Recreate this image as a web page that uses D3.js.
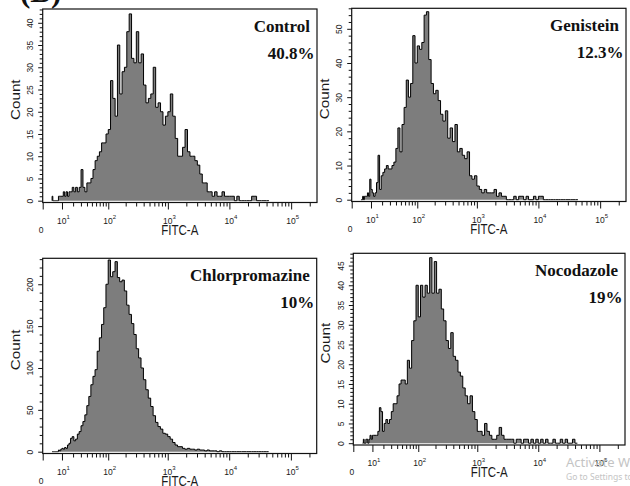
<!DOCTYPE html>
<html>
<head>
<meta charset="utf-8">
<script src="https://cdn.jsdelivr.net/npm/d3@7"></script>
<style>
  body { margin: 0; background: #fff; }
  svg { display: block; }
  text { font-family: "Liberation Sans", Arial, sans-serif; fill: #1a1a1a; }
  .title { font-family: "Liberation Serif", "Times New Roman", serif; font-weight: bold; font-size: 17px; fill: #111; }
</style>
</head>
<body>
<div class="histos"></div>
<script>
// histogram channels: bin i starts at 10^(binLogStart + i*binLogStep) on FITC-A
const binLogStart = 0.6
const binLogStep = 0.04

// counts per bin
const controlCounts = [
  1, 0, 0, 0, 0, 0, 0, 1, 1, 1,
  1, 2, 1, 2, 1, 2, 2, 3, 2, 3,
  2, 3, 7, 3, 2, 4, 4, 5, 7, 9,
  10, 11, 13, 13, 15, 16, 27, 23, 19, 35,
  24, 29, 30, 38, 42, 32, 31, 38, 31, 33,
  26, 22, 23, 24, 30, 21, 22, 20, 17, 19,
  20, 24, 19, 14, 10, 10, 12, 16, 11, 10,
  10, 9, 8, 6, 4, 4, 2, 2, 1, 2,
  1, 1, 2, 1, 1, 1, 1, 0, 1, 0,
  0, 0, 0, 0, 1, 1, 0, 0, 0, 0, 0
]
const genisteinCounts = [
  0, 0, 1, 0, 1, 1, 1, 2, 1, 6,
  3, 2, 1, 2, 5, 13, 3, 7, 8, 9,
  10, 9, 9, 10, 11, 15, 21, 14, 22, 27,
  35, 30, 34, 48, 40, 45, 44, 46, 54, 55,
  41, 34, 31, 32, 29, 25, 23, 26, 18, 21,
  17, 22, 14, 15, 13, 12, 14, 7, 6, 7,
  4, 3, 2, 3, 2, 2, 2, 3, 1, 2,
  1, 1, 0, 0, 0, 1, 0, 1, 1, 0,
  1, 0, 0, 1, 0, 1, 1, 0, 0, 0,
  0, 0, 0, 0, 0, 0, 0, 0, 0, 0, 0
]
const chlorpromazineCounts = [
  0, 0, 0, 0, 0, 0, 0, 2, 1, 3,
  4, 3, 5, 4, 8, 10, 16, 18, 13, 15,
  21, 24, 31, 36, 44, 55, 66, 80, 90, 98,
  120, 136, 152, 172, 200, 229, 209, 215, 227, 208,
  203, 205, 192, 175, 164, 153, 140, 123, 112, 100,
  86, 74, 64, 54, 43, 35, 30, 27, 22, 21,
  18, 15, 11, 8, 6, 6, 4, 3, 4, 3,
  3, 2, 3, 2, 2, 1, 2, 1, 1, 1,
  0, 1, 0, 0, 0, 0, 0, 0, 0, 0,
  0, 0, 0, 0, 0, 0, 0, 0, 0, 0, 0
]
const nocodazoleCounts = [
  0, 1, 0, 0, 1, 1, 0, 1, 2, 1,
  2, 2, 2, 2, 3, 9, 8, 3, 5, 6,
  5, 6, 8, 10, 10, 12, 15, 16, 16, 15,
  21, 19, 26, 31, 40, 32, 40, 37, 40, 38,
  47, 38, 46, 38, 39, 34, 31, 26, 24, 28,
  22, 21, 18, 17, 14, 12, 10, 12, 8, 6,
  3, 3, 2, 5, 3, 2, 1, 1, 2, 4,
  2, 1, 1, 1, 1, 0, 1, 1, 0, 1,
  1, 0, 1, 0, 1, 0, 1, 0, 1, 0,
  0, 1, 0, 0, 1, 0, 1, 0, 0, 1, 0
]

const panelCounts = [controlCounts, genisteinCounts, chlorpromazineCounts, nocodazoleCounts]
const panelNames = ['Control', 'Genistein', 'Chlorpromazine', 'Nocodazole']
const panelPercents = ['40.8%', '12.3%', '10%', '19%']

// count axis: top of the box, labelled step, small tick step
const countMax = [43.1, 56, 231, 48.1]
const countMajor = [5, 10, 50, 5]
const countMinor = [1, 2, 10, 1]

// FITC-A axis
const decadeExponents = [1, 2, 3, 4, 5]
const fitcMax = 262144

// where the four boxes sit
const boxes = [
  { left: 42.7, top: 9, width: 274.3, height: 193.5 },
  { left: 351.7, top: 8.3, width: 274.3, height: 193.2 },
  { left: 42.7, top: 258.3, width: 274, height: 195.2 },
  { left: 353.3, top: 253.3, width: 271.7, height: 191.7 }
]

const width = 630
const height = 486

const svg = d3.select('.histos')
  .append('svg')
  .attr('width', width)
  .attr('height', height)

// panel letter, mostly cut off at the top edge
svg.append('text')
  .attr('class', 'title')
  .attr('x', 20)
  .attr('y', 2)
  .style('font-size', '31px')
  .text('(B)')

const minorDecadeTicks = []
decadeExponents.forEach(e => {
  d3.range(2, 10).forEach(m => {
    const v = m * Math.pow(10, e)
    if (v <= fitcMax) minorDecadeTicks.push(v)
  })
})

panelCounts.forEach((counts, p) => {
  const box = boxes[p]
  const g = svg.append('g')
    .attr('transform', `translate(${box.left},${box.top})`)

  const x = d3.scaleSymlog()
    .constant(9.5)
    .domain([0, fitcMax])
    .range([0, box.width])

  const y = d3.scaleLinear()
    .domain([0, countMax[p]])
    .range([box.height - 1.8, 0])

  g.append('clipPath')
    .attr('id', `clip${p}`)
    .append('rect')
    .attr('width', box.width)
    .attr('height', box.height)

  // step points: up from baseline, each bin, back down after the last
  const pts = [{ v: Math.pow(10, binLogStart), c: 0 }]
  counts.forEach((c, i) => pts.push({ v: Math.pow(10, binLogStart + i * binLogStep), c: c }))
  pts.push({ v: Math.pow(10, binLogStart + counts.length * binLogStep), c: 0 })

  const area = d3.area()
    .curve(d3.curveStepAfter)
    .x(d => x(d.v))
    .y0(y(0))
    .y1(d => y(d.c))

  const line = d3.line()
    .curve(d3.curveStepAfter)
    .x(d => x(d.v))
    .y(d => y(d.c))

  const hist = g.append('g').attr('clip-path', `url(#clip${p})`)
  hist.append('path')
    .datum(pts)
    .attr('d', area)
    .attr('fill', '#7d7d7d')
  hist.append('path')
    .datum(pts)
    .attr('d', line)
    .attr('fill', 'none')
    .attr('stroke', '#000')
    .attr('stroke-width', 1)

  // box
  g.append('rect')
    .attr('width', box.width)
    .attr('height', box.height)
    .attr('fill', 'none')
    .attr('stroke', '#111')
    .attr('stroke-width', 1.2)

  // count axis
  const majorVals = d3.range(0, countMax[p] + 0.001, countMajor[p])
  const minorVals = d3.range(0, countMax[p] + 0.001, countMinor[p])
    .filter(v => v % countMajor[p] !== 0)

  g.append('g')
    .attr('class', 'axis axis--y')
    .call(d3.axisLeft(y).tickValues(minorVals).tickSize(3).tickFormat(''))

  const yAxis = g.append('g')
    .attr('class', 'axis axis--y')
    .call(d3.axisLeft(y).tickValues(majorVals).tickSize(4.5).tickFormat(d3.format('d')))

  yAxis.selectAll('text')
    .attr('transform', 'rotate(-90)')
    .attr('x', 0)
    .attr('y', -9.5)
    .attr('dy', 0)
    .attr('text-anchor', 'middle')
    .style('font-size', '8.5px')

  // FITC-A axis
  const xAxisG = g.append('g')
    .attr('class', 'axis axis--x')
    .attr('transform', `translate(0,${box.height})`)

  xAxisG.append('g')
    .call(d3.axisBottom(x).tickValues(minorDecadeTicks).tickSize(4).tickFormat(''))
  xAxisG.append('g')
    .call(d3.axisBottom(x).tickValues([0].concat(decadeExponents.map(e => Math.pow(10, e)))).tickSize(7).tickFormat(''))

  g.selectAll('.axis .domain').remove()
  g.selectAll('.axis line').attr('stroke', '#111')

  const decLabels = xAxisG.selectAll('.dec')
    .data(decadeExponents)
    .enter()
    .append('text')
    .attr('class', 'dec')
    .attr('x', d => x(Math.pow(10, d)) + 1.5)
    .attr('y', 21)
    .attr('text-anchor', 'middle')
    .style('font-size', '8.5px')

  decLabels.append('tspan').text('10')
  decLabels.append('tspan')
    .attr('dy', -4.5)
    .style('font-size', '6px')
    .text(d => d)

  xAxisG.append('text')
    .attr('x', x(0) - 1.5)
    .attr('y', 30)
    .attr('text-anchor', 'middle')
    .style('font-size', '8.5px')
    .text('0')

  xAxisG.append('text')
    .attr('transform', `translate(${box.width / 2},32) scale(1,1.25)`)
    .attr('text-anchor', 'middle')
    .style('font-size', '11.5px')
    .text('FITC-A')

  g.append('text')
    .attr('transform', `translate(-23,${box.height / 2 - 6}) rotate(-90) scale(1.22,1)`)
    .attr('text-anchor', 'middle')
    .style('font-size', '12.5px')
    .text('Count')

  // treatment name and percentage
  g.append('text')
    .attr('class', 'title')
    .attr('x', box.width - 7)
    .attr('y', 23)
    .attr('text-anchor', 'end')
    .text(panelNames[p])

  g.append('text')
    .attr('class', 'title')
    .attr('x', box.width - 2.5)
    .attr('y', 50)
    .attr('text-anchor', 'end')
    .text(panelPercents[p])
})

// screen watermark left in the picture
svg.append('text')
  .attr('x', 566)
  .attr('y', 467)
  .style('font-family', '"Noto Sans", "Open Sans", sans-serif')
  .style('font-size', '13px')
  .style('fill', '#c4c4c4')
  .text('Activate Windows')

svg.append('text')
  .attr('x', 566)
  .attr('y', 480)
  .style('font-family', '"Noto Sans", "Open Sans", sans-serif')
  .style('font-size', '8.5px')
  .style('fill', '#c4c4c4')
  .text('Go to Settings to activate Windows.')
</script>
</body>
</html>
